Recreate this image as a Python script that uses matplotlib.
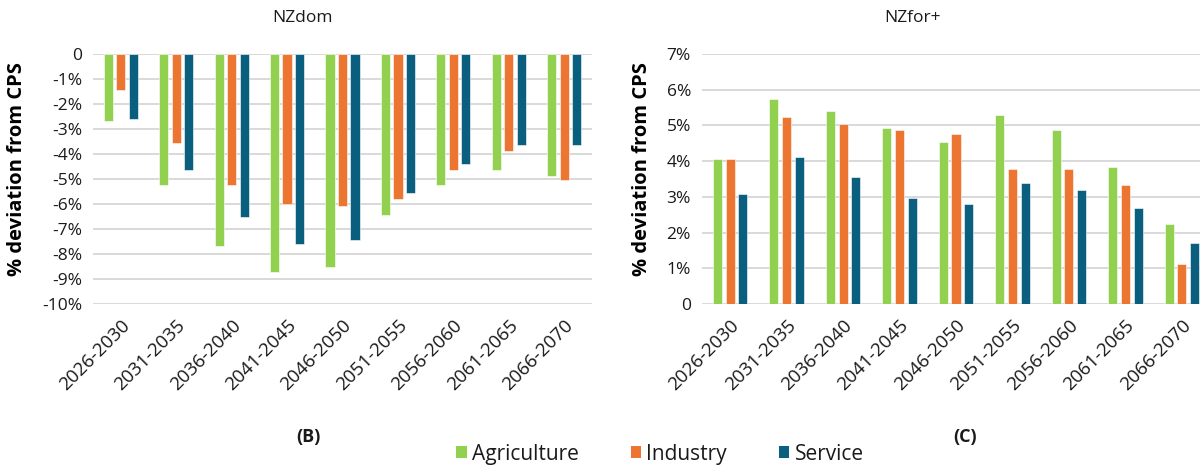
#!/usr/bin/env python3
"""
Sectoral output deviation from CPS, NZdom vs NZfor+ (grouped bars, two panels).
"""

import numpy as np
import matplotlib
matplotlib.use("Agg")
import matplotlib.pyplot as plt
from matplotlib.patches import Patch

matplotlib.rcParams.update({
    "font.family": ["Open Sans", "DejaVu Sans"],
    "font.size": 11,
    "text.color": "#1a1a1a",
    "xtick.color": "#1a1a1a",
    "ytick.color": "#1a1a1a",
})

periods = ["2026-2030", "2031-2035", "2036-2040", "2041-2045", "2046-2050",
           "2051-2055", "2056-2060", "2061-2065", "2066-2070"]
sectors = ["Agriculture", "Industry", "Service"]
colors = ["#92D050", "#ED7532", "#0A5E7E"]

# NZdom, % deviation from CPS
nzdom_agri = [-2.67, -5.25, -7.66, -8.72, -8.50, -6.45, -5.25, -4.63, -4.86]
nzdom_ind = [-1.45, -3.57, -5.25, -6.00, -6.08, -5.78, -4.63, -3.88, -5.02]
nzdom_serv = [-2.59, -4.63, -6.53, -7.60, -7.44, -5.55, -4.41, -3.65, -3.65]

# NZfor+, % deviation from CPS
nzfor_agri = [4.06, 5.74, 5.40, 4.93, 4.53, 5.29, 4.87, 3.84, 2.23]
nzfor_ind = [4.06, 5.23, 5.05, 4.87, 4.76, 3.77, 3.77, 3.32, 1.13]
nzfor_serv = [3.09, 4.13, 3.55, 2.97, 2.80, 3.38, 3.20, 2.68, 1.70]

left_ticks = [0, -1, -2, -3, -4, -5, -6, -7, -8, -9, -10]
right_ticks = [0, 1, 2, 3, 4, 5, 6, 7]


def pct_label(v):
    return "0" if v == 0 else f"{v}%"


def draw_panel(ax, series, ticks, ylim, pitch, width):
    x = np.arange(len(periods))
    for i, (vals, col) in enumerate(zip(series, colors)):
        ax.bar(x + (i - 1) * pitch, vals, width=width, color=col,
               edgecolor="white", linewidth=0.4, zorder=3)
    ax.set_xlim(-0.5, len(periods) - 0.5)
    ax.set_ylim(*ylim)
    ax.set_yticks(ticks)
    ax.set_yticklabels([pct_label(t) for t in ticks], fontsize=12.5)
    ax.set_xticks(x)
    ax.set_xticklabels(periods, rotation=45, ha="right",
                       rotation_mode="anchor", fontsize=13.5)
    ax.tick_params(axis="both", length=0)
    ax.tick_params(axis="y", pad=8)
    ax.tick_params(axis="x", pad=9)
    for s in ax.spines.values():
        s.set_visible(False)
    ax.grid(axis="y", color="#D9D9D9", linewidth=1.4, zorder=0)
    ax.set_axisbelow(True)
    ax.set_ylabel("% deviation from CPS", fontsize=14.5, fontweight="bold")


fig = plt.figure(figsize=(12, 4.65), dpi=100)

ax1 = fig.add_axes([93 / 1200, 1 - 304 / 465, 499 / 1200, 250 / 465])
draw_panel(ax1, [nzdom_agri, nzdom_ind, nzdom_serv], left_ticks, (-10, 0),
           pitch=0.225, width=0.165)
ax1.yaxis.set_label_coords(-0.132, 0.54)

ax2 = fig.add_axes([702 / 1200, 1 - 304 / 465, 508 / 1200, 250 / 465])
draw_panel(ax2, [nzfor_agri, nzfor_ind, nzfor_serv], right_ticks, (0, 7),
           pitch=0.225, width=0.16)
ax2.yaxis.set_label_coords(-0.098, 0.54)

fig.text(302 / 1200, 1 - 18 / 465, "NZdom", ha="center", va="center", fontsize=12.5)
fig.text(912 / 1200, 1 - 18 / 465, "NZfor+", ha="center", va="center", fontsize=12.5)

fig.text(308 / 1200, 1 - 437 / 465, "(B)", ha="center", va="center",
         fontsize=13, fontweight="bold")
fig.text(965 / 1200, 1 - 437 / 465, "(C)", ha="center", va="center",
         fontsize=13, fontweight="bold")

handles = [Patch(facecolor=c, edgecolor="none") for c in colors]
fig.legend(handles, sectors, loc="center", bbox_to_anchor=(660 / 1200, 1 - 454 / 465),
           ncol=3, frameon=False, fontsize=15, handlelength=0.5, handleheight=0.5,
           handletextpad=0.25, columnspacing=2.5)

fig.savefig("out.png", dpi=100)
